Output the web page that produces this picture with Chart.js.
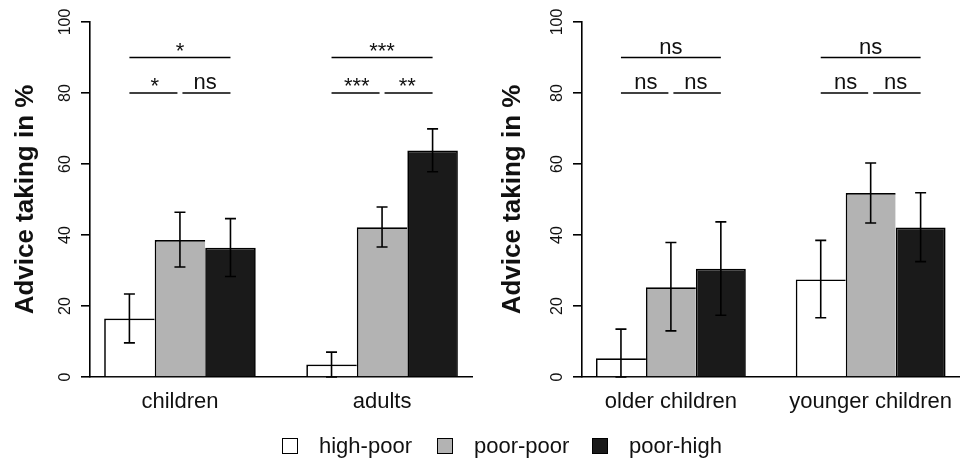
<!DOCTYPE html>
<html><head><meta charset="utf-8">
<script src="https://cdn.jsdelivr.net/npm/chart.js@4.4.1/dist/chart.umd.min.js"></script>
<style>
html,body{margin:0;padding:0;background:#fff;overflow:hidden;}
#wrap{position:relative;width:960px;height:459px;overflow:hidden;background:#fff;}
#c1{position:absolute;left:0;top:0;}
#c2{position:absolute;left:480px;top:0;}
#legend{position:absolute;left:282px;top:437px;display:flex;font-family:'Liberation Sans',Arial,Helvetica,sans-serif;font-size:22px;line-height:22px;color:#111;}
.item{display:flex;align-items:center;width:155px;height:17px;}
.box{display:block;width:16px;height:16px;box-sizing:border-box;border:1.5px solid #000;margin-right:21px;}
</style></head>
<body><div id="wrap"><canvas id="c1" width="480" height="459"></canvas><canvas id="c2" width="484" height="459"></canvas><div id="legend"></div></div>
<script>
// ---------- data ----------
const seriesNames = ['high-poor', 'poor-poor', 'poor-high'];
const seriesColors = ['#ffffff', '#b3b3b3', '#1a1a1a'];
const yTitle = 'Advice taking in %';
const sigLevels = [90, 80];

// panel 1: children vs adults
const ageCategories = ['children', 'adults'];
const ageHighPoor = [16.5, 3.5];
const agePoorPoor = [38.6, 42.2];
const agePoorHigh = [36.4, 63.8];
const ageHighPoorLow = [9.6, 0.0];
const ageHighPoorHigh = [23.4, 7.0];
const agePoorPoorLow = [31.0, 36.6];
const agePoorPoorHigh = [46.4, 47.9];
const agePoorHighLow = [28.3, 57.8];
const agePoorHighHigh = [44.6, 69.9];
const ageSigTop = ['*', '***'];
const ageSigLeft = ['*', '***'];
const ageSigRight = ['ns', '**'];

// panel 2: older vs younger children
const kidCategories = ['older children', 'younger children'];
const kidHighPoor = [5.3, 27.5];
const kidPoorPoor = [25.3, 51.8];
const kidPoorHigh = [30.5, 42.1];
const kidHighPoorLow = [0.0, 16.7];
const kidHighPoorHigh = [13.5, 38.5];
const kidPoorPoorLow = [13.0, 43.4];
const kidPoorPoorHigh = [37.9, 60.3];
const kidPoorHighLow = [17.4, 32.5];
const kidPoorHighHigh = [43.7, 51.9];
const kidSigTop = ['ns', 'ns'];
const kidSigLeft = ['ns', 'ns'];
const kidSigRight = ['ns', 'ns'];

// ---------- drawing ----------
const FAMILY = "'Liberation Sans', Arial, Helvetica, sans-serif";
const groupX = i => 2.5 + 4 * i; // barplot group centres (bars of width 1, space 1)

const annotPlugin = {
  id: 'annot',
  afterDatasetsDraw(chart, args, o) {
    const ctx = chart.ctx, ys = chart.scales.y;
    ctx.save();
    ctx.strokeStyle = '#000';
    ctx.lineWidth = 1.6;
    // error bars
    for (let k = 0; k < 3; k++) {
      chart.getDatasetMeta(k).data.forEach((bar, i) => {
        const x = bar.x;
        const y1 = ys.getPixelForValue(o.lows[k][i]);
        const y2 = ys.getPixelForValue(o.highs[k][i]);
        ctx.beginPath();
        ctx.moveTo(x, y1); ctx.lineTo(x, y2);
        ctx.moveTo(x - 5.5, y2); ctx.lineTo(x + 5.5, y2);
        ctx.moveTo(x - 5.5, y1); ctx.lineTo(x + 5.5, y1);
        ctx.stroke();
      });
    }
    // significance brackets
    ctx.font = '22px ' + FAMILY;
    ctx.fillStyle = '#111';
    ctx.textAlign = 'center';
    ctx.textBaseline = 'alphabetic';
    const yT = ys.getPixelForValue(sigLevels[0]);
    const yL = ys.getPixelForValue(sigLevels[1]);
    const label = (t, x, yy) => {
      const star = /^\*+$/.test(t);
      ctx.fillText(t, x, yy - 4 + (star ? 4 : 0));
    };
    const line = (a, b, yy) => { ctx.beginPath(); ctx.moveTo(a, yy); ctx.lineTo(b, yy); ctx.stroke(); };
    o.sigTop.forEach((t, i) => {
      const c = [0, 1, 2].map(k => chart.getDatasetMeta(k).data[i].x);
      line(c[0], c[2], yT);
      line(c[0], c[1] - 2.5, yL);
      line(c[1] + 2.5, c[2], yL);
      label(t, (c[0] + c[2]) / 2, yT);
      label(o.sigLeft[i], (c[0] + c[1]) / 2, yL);
      label(o.sigRight[i], (c[1] + c[2]) / 2, yL);
    });
    ctx.restore();
  }
};

function makeChart(id, cats, values, lows, highs, sigTop, sigLeft, sigRight, axisW, padRight, titlePad) {
  return new Chart(document.getElementById(id), {
    type: 'bar',
    data: {
      datasets: seriesNames.map((n, k) => ({
        label: n,
        data: cats.map((c, i) => ({ x: groupX(i), y: values[k][i] })),
        backgroundColor: seriesColors[k],
        borderColor: '#000',
        borderWidth: k === 2 ? { top: 1.7, left: 1.7, right: 1.7, bottom: 0 } : { top: 1.7, left: 1.7, right: 0, bottom: 0 },
        borderSkipped: false,
        categoryPercentage: 0.75,
        barPercentage: 1
      }))
    },
    options: {
      responsive: false,
      animation: false,
      events: [],
      layout: { padding: { top: 22, right: padRight, bottom: 0, left: 0 } },
      plugins: {
        legend: { display: false },
        tooltip: { enabled: false },
        annot: { lows, highs, sigTop, sigLeft, sigRight }
      },
      scales: {
        x: {
          type: 'linear', min: 0.72, max: 8.28, offset: false, z: 1,
          grid: { display: false, drawTicks: false, offset: false },
          border: { display: true, color: '#000', width: 1.6 },
          afterBuildTicks: s => { s.ticks = cats.map((c, i) => ({ value: groupX(i) })); },
          afterFit: s => { s.height = 82; },
          ticks: {
            autoSkip: false, maxRotation: 0, minRotation: 0, padding: 12,
            color: '#111', font: { family: FAMILY, size: 22 },
            callback: (v, i) => cats[i]
          }
        },
        y: {
          min: 0, max: 100,
          afterFit: s => { s.width = axisW; },
          grid: { display: true, drawOnChartArea: false, drawTicks: true, tickLength: 9, color: '#000', lineWidth: 1.6 },
          border: { display: true, color: '#000', width: 1.6 },
          ticks: {
            stepSize: 20, minRotation: 90, maxRotation: 90, crossAlign: 'center', padding: 2.5,
            color: '#111', font: { family: FAMILY, size: 16 }
          },
          title: {
            display: true, text: yTitle, color: '#111',
            font: { family: FAMILY, size: 26, weight: 'bold' },
            padding: { top: titlePad, bottom: 0 }
          }
        }
      }
    },
    plugins: [annotPlugin]
  });
}

makeChart('c1', ageCategories,
  [ageHighPoor, agePoorPoor, agePoorHigh],
  [ageHighPoorLow, agePoorPoorLow, agePoorHighLow],
  [ageHighPoorHigh, agePoorPoorHigh, agePoorHighHigh],
  ageSigTop, ageSigLeft, ageSigRight, 90, 8, 10);

makeChart('c2', kidCategories,
  [kidHighPoor, kidPoorPoor, kidPoorHigh],
  [kidHighPoorLow, kidPoorPoorLow, kidPoorHighLow],
  [kidHighPoorHigh, kidPoorPoorHigh, kidPoorHighHigh],
  kidSigTop, kidSigLeft, kidSigRight, 102, 0, 17);

// legend
const leg = document.getElementById('legend');
seriesNames.forEach((n, k) => {
  const it = document.createElement('div'); it.className = 'item';
  const b = document.createElement('span'); b.className = 'box'; b.style.background = seriesColors[k];
  const t = document.createElement('span'); t.textContent = n;
  it.append(b, t); leg.append(it);
});
</script>
</body></html>
